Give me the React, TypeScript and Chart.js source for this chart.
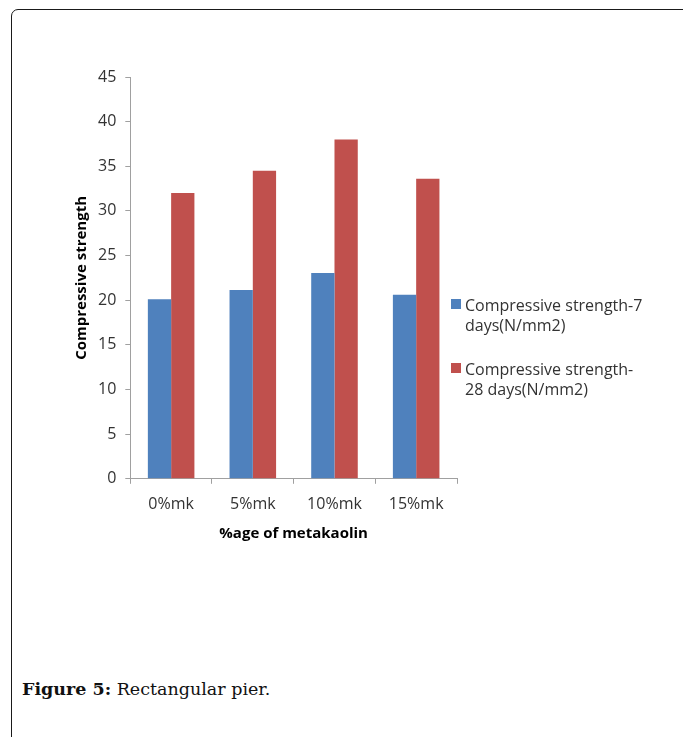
import React, { useEffect, useRef } from "react";
import { Chart, registerables } from "chart.js";

Chart.register(...registerables);

const categories = ["0%mk", "5%mk", "10%mk", "15%mk"];
const strength7 = [20.1, 21.15, 23.05, 20.6];
const strength28 = [32.0, 34.5, 38.0, 33.6];
const seriesNames = [
  "Compressive strength-7 days(N/mm2)",
  "Compressive strength-28 days(N/mm2)",
];
const legendLines = [
  ["Compressive strength-7", "days(N/mm2)"],
  ["Compressive strength-", "28 days(N/mm2)"],
];
const seriesColors = ["#4F81BD", "#C0504D"];
const yMin = 0;
const yMax = 45;
const yStep = 5;
const yTitle = "Compressive strength";
const xTitle = "%age of metakaolin";

const FONT = "'Open Sans', sans-serif";
const AXIS = "#a0a0a0";
const TEXT = "#333333";

export default function App() {
  const ref = useRef<HTMLCanvasElement | null>(null);

  useEffect(() => {
    if (!ref.current) return;
    const chart = new Chart(ref.current, {
      type: "bar",
      data: {
        labels: categories,
        datasets: [
          { label: seriesNames[0], data: strength7, backgroundColor: seriesColors[0], borderWidth: 0 },
          { label: seriesNames[1], data: strength28, backgroundColor: seriesColors[1], borderWidth: 0 },
        ],
      },
      options: {
        animation: false,
        responsive: true,
        maintainAspectRatio: false,
        layout: { padding: { top: 37, right: 10, bottom: 8, left: 0 } },
        datasets: { bar: { categoryPercentage: 0.57, barPercentage: 1 } },
        plugins: {
          legend: { display: false },
          tooltip: { enabled: false },
        },
        scales: {
          x: {
            offset: true,
            grid: { offset: true, drawOnChartArea: false, drawTicks: true, tickLength: 5, color: AXIS },
            border: { color: AXIS, width: 1 },
            ticks: { color: TEXT, font: { family: FONT, size: 16 }, padding: 11 },
            title: {
              display: true,
              text: xTitle,
              color: "#000",
              font: { family: FONT, size: 15, weight: "bold" },
              padding: { top: 0, bottom: 7 },
            },
          },
          y: {
            min: yMin,
            max: yMax,
            grid: { drawOnChartArea: false, drawTicks: true, tickLength: 5, color: AXIS },
            border: { color: AXIS, width: 1 },
            ticks: { stepSize: yStep, color: TEXT, font: { family: FONT, size: 16 }, padding: 9 },
            title: {
              display: true,
              text: yTitle,
              color: "#000",
              font: { family: FONT, size: 15, weight: "bold" },
              padding: { top: 10, bottom: -2 },
            },
          },
        },
      },
    });
    return () => chart.destroy();
  }, []);

  return (
    <div style={{ position: "fixed", left: 0, top: 0, width: 683, height: 737, overflow: "hidden", background: "#fff" }}>
      <div
        style={{
          position: "absolute",
          left: 11,
          top: 9,
          width: 720,
          height: 780,
          border: "1.5px solid #1a1a1a",
          borderRadius: 7,
          boxSizing: "border-box",
        }}
      />
      <div style={{ position: "absolute", left: 63, top: 40, width: 404, height: 518 }}>
        <canvas ref={ref} />
      </div>
      <div style={{ position: "absolute", left: 451, top: 295, fontFamily: FONT, fontSize: 16, color: TEXT, lineHeight: "20px" }}>
        {legendLines.map((lines, i) => (
          <div key={i} style={{ position: "relative", paddingLeft: 14, marginBottom: i === 0 ? 24 : 0 }}>
            <span
              style={{
                position: "absolute",
                left: 0,
                top: 4,
                width: 10,
                height: 10,
                background: seriesColors[i],
              }}
            />
            {lines.map((t, j) => (
              <div key={j} style={{ whiteSpace: "nowrap" }}>{t}</div>
            ))}
          </div>
        ))}
      </div>
      <div
        style={{
          position: "absolute",
          left: 22,
          top: 679,
          fontFamily: "'DejaVu Serif', serif",
          fontSize: 17.5,
          color: "#111",
          whiteSpace: "nowrap",
        }}
      >
        <b>Figure 5:</b> Rectangular pier.
      </div>
    </div>
  );
}
